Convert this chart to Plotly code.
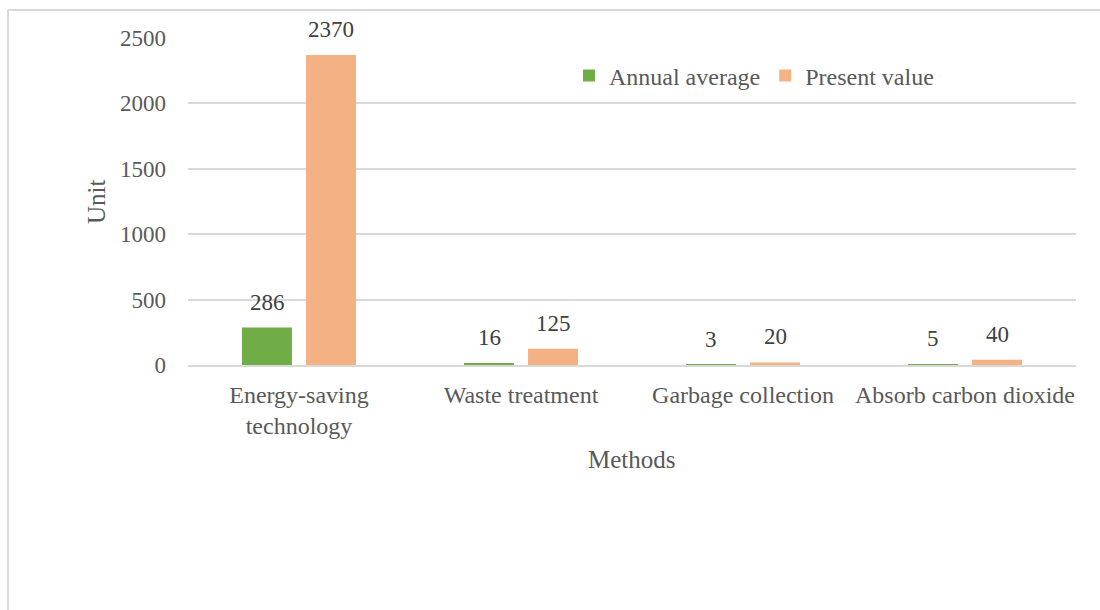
import plotly.graph_objects as go

methods = ["Energy-saving<br>technology", "Waste treatment", "Garbage collection", "Absorb carbon dioxide"]
annual_average = [286, 16, 3, 5]
present_value = [2370, 125, 20, 40]
y_ticks = [0, 500, 1000, 1500, 2000, 2500]

GREEN = "#70AD47"
ORANGE = "#F4B183"
FONT = "Liberation Serif"

fig = go.Figure()
fig.add_trace(go.Bar(name="Annual average", x=methods, y=annual_average,
                     marker=dict(color=GREEN, line=dict(width=0))))
fig.add_trace(go.Bar(name="Present value", x=methods, y=present_value,
                     marker=dict(color=ORANGE, line=dict(width=0))))

# value labels above each bar, shifted with the bar's offset in its group
annotations = []
for i, (a, p) in enumerate(zip(annual_average, present_value)):
    for v, dx in ((a, -32), (p, 32)):
        annotations.append(dict(x=methods[i], y=v, xref="x", yref="y", text=str(v),
                                showarrow=False, yanchor="bottom", xshift=dx, yshift=11,
                                font=dict(family=FONT, size=23, color="#404040")))

annotations.append(dict(x=0.5, y=-0.2905, xref="paper", yref="paper", text="Methods",
                        xanchor="center", yanchor="middle", showarrow=False,
                        font=dict(family=FONT, size=25, color="#595959")))
annotations.append(dict(x=-0.103, y=0.5, xref="paper", yref="paper", text="Unit",
                        xanchor="center", yanchor="middle", textangle=-90, showarrow=False,
                        font=dict(family=FONT, size=25, color="#595959")))

fig.update_layout(
    width=1100, height=610,
    margin=dict(l=188, r=24, t=38, b=245),
    paper_bgcolor="white", plot_bgcolor="white",
    barmode="group", bargap=0.423, bargroupgap=0.22,
    font=dict(family=FONT, size=23, color="#595959"),
    showlegend=True,
    legend=dict(orientation="h", x=0.429, y=0.884, xanchor="left", yanchor="middle",
                font=dict(family=FONT, size=24, color="#595959"),
                itemwidth=30, traceorder="normal", bgcolor="rgba(0,0,0,0)"),
    annotations=annotations,
    shapes=[
        dict(type="line", xref="paper", yref="paper", x0=-0.2027, x1=-0.2027,
             y0=1.0856, y1=-0.75, line=dict(color="#D9D9D9", width=2)),
        dict(type="line", xref="paper", yref="paper", x0=-0.2027, x1=1.03,
             y0=1.0856, y1=1.0856, line=dict(color="#D9D9D9", width=2)),
    ],
)
fig.update_xaxes(showgrid=False, showline=True, linecolor="#D9D9D9", linewidth=1.5,
                 ticks="", ticklabelstandoff=7,
                 tickfont=dict(family=FONT, size=24, color="#595959"))
fig.update_yaxes(range=[0, 2500], tickvals=y_ticks, showgrid=True, gridcolor="#D9D9D9",
                 gridwidth=1.5, zeroline=False, showline=False, ticks="",
                 ticklabelstandoff=21,
                 tickfont=dict(family=FONT, size=23, color="#595959"))
fig.update_traces(cliponaxis=False)

fig.write_html("out.html")
